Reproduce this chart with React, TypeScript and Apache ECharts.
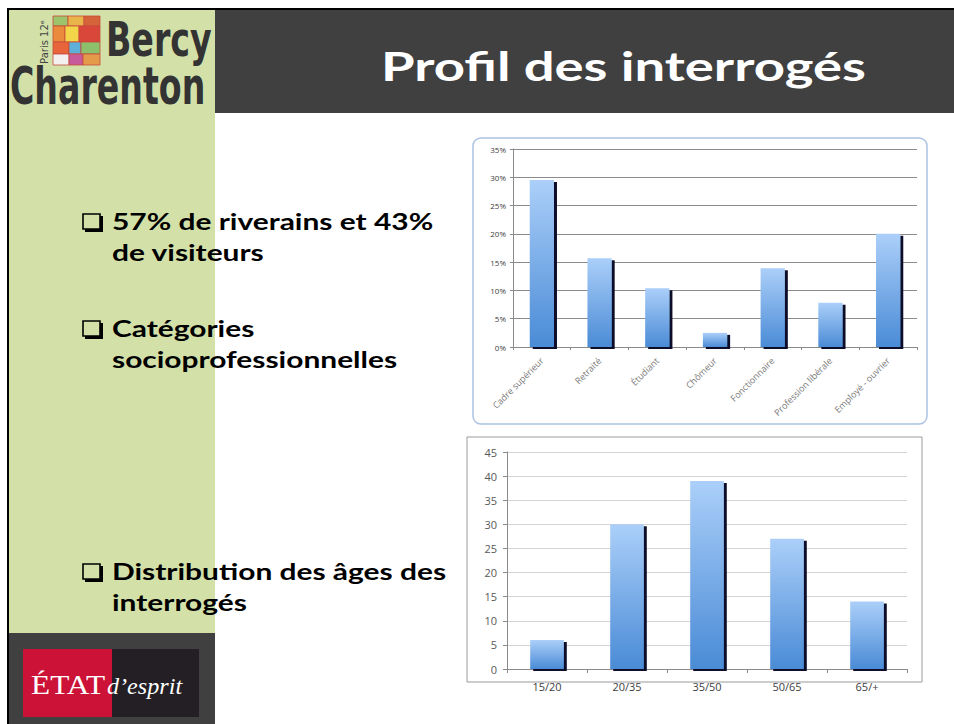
import React, { useEffect, useRef } from "react";
import * as echarts from "echarts";

const professionCategories = [
  "Cadre supérieur",
  "Retraité",
  "Étudiant",
  "Chômeur",
  "Fonctionnaire",
  "Profession libérale",
  "Employé - ouvrier",
];
const professionShares = [29.5, 15.7, 10.4, 2.5, 13.9, 7.8, 20.0];

const ageCategories = ["15/20", "20/35", "35/50", "50/65", "65/+"];
const ageCounts = [6, 30, 39, 27, 14];

const titleText = "Profil des interrogés";
const bulletLines = [
  ["57% de riverains et 43%", "de visiteurs"],
  ["Catégories", "socioprofessionnelles"],
  ["Distribution des âges des", "interrogés"],
];

const barGradient = () =>
  new echarts.graphic.LinearGradient(0, 0, 0, 1, [
    { offset: 0, color: "#abcff9" },
    { offset: 1, color: "#4a8bd6" },
  ]);

export default function App() {
  const ref = useRef<HTMLDivElement>(null);

  useEffect(() => {
    if (!ref.current) return;
    const chart = echarts.init(ref.current, undefined, { renderer: "svg" });

    const bulletY = [222, 329, 572];
    const bulletGraphics: any[] = [];
    bulletLines.forEach((lines, i) => {
      const y = bulletY[i];
      bulletGraphics.push({
        type: "rect",
        shape: { x: 85, y: y - 6, width: 18, height: 16 },
        style: { fill: "#000" },
      });
      bulletGraphics.push({
        type: "rect",
        shape: { x: 83, y: y - 8, width: 17, height: 15 },
        style: { fill: "#d3e1a9", stroke: "#000", lineWidth: 1.6 },
      });
      lines.forEach((t, j) => {
        bulletGraphics.push({
          type: "text",
          x: 112,
          y: y + j * 31,
          scaleX: 1.36,
          style: {
            text: t,
            fill: "#000",
            font: "bold 22px Lato",
            verticalAlign: "middle",
          },
        });
      });
    });

    const patch = [
      [53, 16, 15, 10, "#9cc46a"],
      [68, 16, 16, 10, "#e9b54a"],
      [84, 16, 16, 10, "#d5643a"],
      [53, 26, 12, 16, "#e98a3c"],
      [65, 26, 14, 16, "#f3d54a"],
      [79, 26, 21, 16, "#d9463a"],
      [53, 42, 16, 12, "#e8653c"],
      [69, 42, 12, 12, "#5fb0d8"],
      [81, 42, 19, 12, "#8cc06a"],
      [53, 54, 16, 11, "#f4f0f0"],
      [69, 54, 14, 11, "#c75a9a"],
      [83, 54, 17, 11, "#e59a4a"],
    ];

    const option: any = {
      animation: false,
      backgroundColor: "#ffffff",
      grid: [
        { left: 513, right: 37, top: 149, bottom: 377 },
        { left: 507, right: 47, top: 452, bottom: 55 },
      ],
      xAxis: [
        {
          type: "category",
          gridIndex: 0,
          data: professionCategories,
          axisLine: { lineStyle: { color: "#8a8a8a" } },
          axisTick: { show: true, length: 3, lineStyle: { color: "#8a8a8a" } },
          axisLabel: {
            rotate: 45,
            fontSize: 9,
            color: "#7a7a7a",
            fontFamily: "Open Sans",
            margin: 12,
          },
        },
        {
          type: "category",
          gridIndex: 1,
          data: ageCategories,
          axisLine: { lineStyle: { color: "#8a8a8a" } },
          axisTick: { show: true, length: 4, lineStyle: { color: "#8a8a8a" } },
          axisLabel: {
            fontSize: 11,
            color: "#404040",
            fontFamily: "Open Sans",
            margin: 12,
          },
        },
      ],
      yAxis: [
        {
          type: "value",
          gridIndex: 0,
          min: 0,
          max: 35,
          interval: 5,
          axisLine: { show: true, lineStyle: { color: "#8a8a8a" } },
          axisTick: { show: true, length: 3, lineStyle: { color: "#8a8a8a" } },
          axisLabel: {
            formatter: "{value}%",
            fontSize: 8,
            color: "#404040",
            fontFamily: "Open Sans",
            margin: 7,
          },
          splitLine: { lineStyle: { color: "#8c8c8c" } },
        },
        {
          type: "value",
          gridIndex: 1,
          min: 0,
          max: 45,
          interval: 5,
          axisLine: { show: true, lineStyle: { color: "#8a8a8a" } },
          axisTick: { show: true, length: 4, lineStyle: { color: "#8a8a8a" } },
          axisLabel: {
            fontSize: 11,
            color: "#595959",
            fontFamily: "Open Sans",
            margin: 10,
          },
          splitLine: { lineStyle: { color: "#d4d4d4" } },
        },
      ],
      series: [
        {
          type: "bar",
          xAxisIndex: 0,
          yAxisIndex: 0,
          data: professionShares,
          barWidth: "42%",
          itemStyle: {
            color: barGradient(),
            shadowColor: "#0a0f2a",
            shadowOffsetX: 3,
            shadowOffsetY: 2,
            shadowBlur: 0,
          },
        },
        {
          type: "bar",
          xAxisIndex: 1,
          yAxisIndex: 1,
          data: ageCounts,
          barWidth: "42%",
          itemStyle: {
            color: barGradient(),
            shadowColor: "#0a0f2a",
            shadowOffsetX: 3,
            shadowOffsetY: 2,
            shadowBlur: 0,
          },
        },
      ],
      graphic: [
        { type: "rect", z: -10, shape: { x: 9, y: 10, width: 206, height: 623 }, style: { fill: "#d3e1a9" } },
        { type: "rect", z: -10, shape: { x: 215, y: 10, width: 739, height: 103 }, style: { fill: "#404040" } },
        { type: "rect", z: -10, shape: { x: 9, y: 633, width: 206, height: 91 }, style: { fill: "#404040" } },
        { type: "rect", shape: { x: 7, y: 8, width: 947, height: 2 }, style: { fill: "#000" } },
        { type: "rect", shape: { x: 7, y: 8, width: 2, height: 716 }, style: { fill: "#000" } },
        {
          type: "text",
          x: 381,
          y: 66,
          scaleX: 1.36,
          style: {
            text: titleText,
            fill: "#ffffff",
            font: "bold 40px Lato",
            verticalAlign: "middle",
          },
        },
        {
          type: "rect",
          shape: { x: 473, y: 138, width: 454, height: 286, r: 8 },
          style: { fill: "none", stroke: "#a9c3e3", lineWidth: 1.5 },
        },
        {
          type: "rect",
          shape: { x: 467, y: 437, width: 455, height: 245 },
          style: { fill: "none", stroke: "#9a9a9a", lineWidth: 1 },
        },
        ...patch.map((p) => ({
          type: "rect",
          shape: { x: p[0], y: p[1], width: p[2], height: p[3] },
          style: { fill: p[4], stroke: "#c84a3a", lineWidth: 0.8 },
        })),
        {
          type: "text",
          x: 44,
          y: 42,
          rotation: Math.PI / 2,
          style: {
            text: "Paris 12ᵉ",
            fill: "#444",
            font: "10px 'DejaVu Sans'",
            align: "center",
            verticalAlign: "middle",
          },
        },
        {
          type: "text",
          x: 106,
          y: 39,
          scaleX: 0.77,
          style: {
            text: "Bercy",
            fill: "#333",
            font: "bold 48px 'DejaVu Sans Condensed'",
            verticalAlign: "middle",
          },
        },
        {
          type: "text",
          x: 10,
          y: 86,
          scaleX: 0.71,
          style: {
            text: "Charenton",
            fill: "#333",
            font: "bold 52px 'DejaVu Sans Condensed'",
            verticalAlign: "middle",
          },
        },
        { type: "rect", shape: { x: 23, y: 649, width: 89, height: 68 }, style: { fill: "#cc1236" } },
        { type: "rect", shape: { x: 112, y: 649, width: 87, height: 68 }, style: { fill: "#231f24" } },
        {
          type: "text",
          x: 31,
          y: 699,
          scaleX: 1.12,
          style: {
            text: "ÉTAT",
            fill: "#ffffff",
            font: "28px 'Liberation Serif'",
            verticalAlign: "bottom",
          },
        },
        {
          type: "text",
          x: 107,
          y: 698,
          scaleX: 1.05,
          style: {
            text: "d’esprit",
            fill: "#ffffff",
            font: "italic 23px 'Liberation Serif'",
            verticalAlign: "bottom",
          },
        },
        ...bulletGraphics,
      ],
    };

    chart.setOption(option);
    return () => chart.dispose();
  }, []);

  return (
    <div
      ref={ref}
      style={{ position: "fixed", left: 0, top: 0, width: 954, height: 724 }}
    />
  );
}
